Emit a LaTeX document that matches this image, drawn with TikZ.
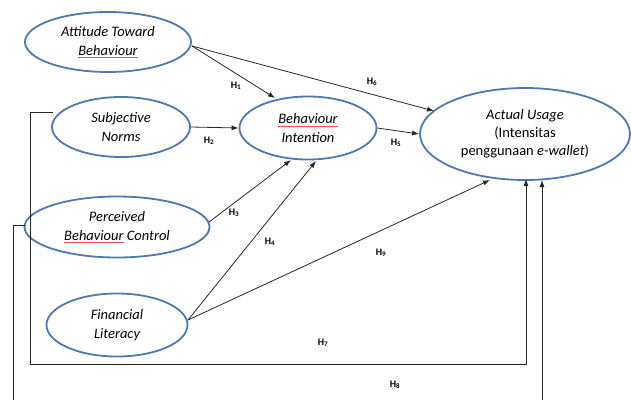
\documentclass[tikz,border=0pt]{standalone}
\usepackage{fontspec}
\setmainfont{Carlito}
\usetikzlibrary{arrows.meta,shapes.geometric}
\definecolor{ellblue}{RGB}{79,120,178}
\newlength\wlen
\newcommand\redul[1]{\settowidth\wlen{#1}\rlap{\textcolor{red!70}{\rule[-2.5pt]{\wlen}{0.5pt}}}#1}
\tikzset{
  construct/.style={draw=ellblue, line width=1.8pt, ellipse, fill=white, align=center, font=\fontsize{14.5}{18.5}\selectfont\itshape, inner sep=0pt},
  conn/.style={draw=black!85, line width=0.8pt},
  arr/.style={conn, -{Latex[length=7pt,width=5pt]}},
  hlab/.style={font=\fontsize{10}{11}\selectfont\bfseries, inner sep=1pt}
}
\newcommand\Hs[1]{H\textsubscript{#1}}
\begin{document}
\begin{tikzpicture}[x=1pt,y=-1pt]
\useasboundingbox (0,0) rectangle (631,399);
\node[construct, minimum width=166pt, minimum height=60pt] (atb) at (108,42) {Attitude Toward\\\redul{Behaviour}};
\node[construct, minimum width=138pt, minimum height=60pt] (sn) at (121,127) {Subjective\\Norms};
\node[construct, minimum width=137pt, minimum height=63pt] (bi) at (308,128) {\redul{Behaviour}\\Intention};
\node[construct, minimum width=210pt, minimum height=92pt, font=\fontsize{14.5}{18}\selectfont] (au) at (525,134) {\textit{Actual Usage}\\(Intensitas\\penggunaan \textit{e-wallet})};
\node[construct, minimum width=185pt, minimum height=61pt] (pbc) at (117,227) {Perceived\\\redul{Behaviour} Control};
\node[construct, minimum width=141pt, minimum height=63pt] (fl) at (117,325) {Financial\\Literacy};

\coordinate (atbE) at (192,46);
\coordinate (flE) at (188,320);
\coordinate (pbcE) at (209,222);
\coordinate (bi1) at (275,98);
\coordinate (au6) at (434,111);
\coordinate (bi3) at (291,160);
\coordinate (bi4) at (316,161);
\coordinate (au9) at (490,180);
\draw[arr] (atbE) -- (bi1);
\draw[arr] (atbE) -- (au6);
\draw[arr] (sn.east) -- (bi.west);
\draw[arr] (bi.east) -- (au.west);
\draw[arr] (pbcE) -- (bi3);
\draw[arr] (flE) -- (bi4);
\draw[arr] (flE) -- (au9);
% H7
\coordinate (sn1) at (30,112);
\coordinate (sn0) at (53,112);
\coordinate (sn2) at (30,364);
\coordinate (au7b) at (526,364);
\coordinate (au7) at (526,179);
\draw[arr] (sn0) -- (sn1) -- (sn2) -- (au7b) -- (au7);
% H8
\coordinate (pb0) at (25,225);
\coordinate (pb1) at (13,225);
\coordinate (pb2) at (13,400);
\coordinate (au8b) at (542,400);
\coordinate (au8) at (542,180);
\draw[conn] (pb0) -- (pb1) -- (pb2);
\draw[arr] (au8b) -- (au8);

\node[hlab] (h1) at (236,86) {\Hs{1}};
\node[hlab] (h6) at (372,82) {\Hs{6}};
\node[hlab] (h2) at (209,141) {\Hs{2}};
\node[hlab] (h5) at (396,143) {\Hs{5}};
\node[hlab] (h3) at (234,213) {\Hs{3}};
\node[hlab] (h4) at (270,242) {\Hs{4}};
\node[hlab] (h9) at (381,253) {\Hs{9}};
\node[hlab] (h7) at (323,343) {\Hs{7}};
\node[hlab] (h8) at (395,385) {\Hs{8}};
\end{tikzpicture}
\end{document}
